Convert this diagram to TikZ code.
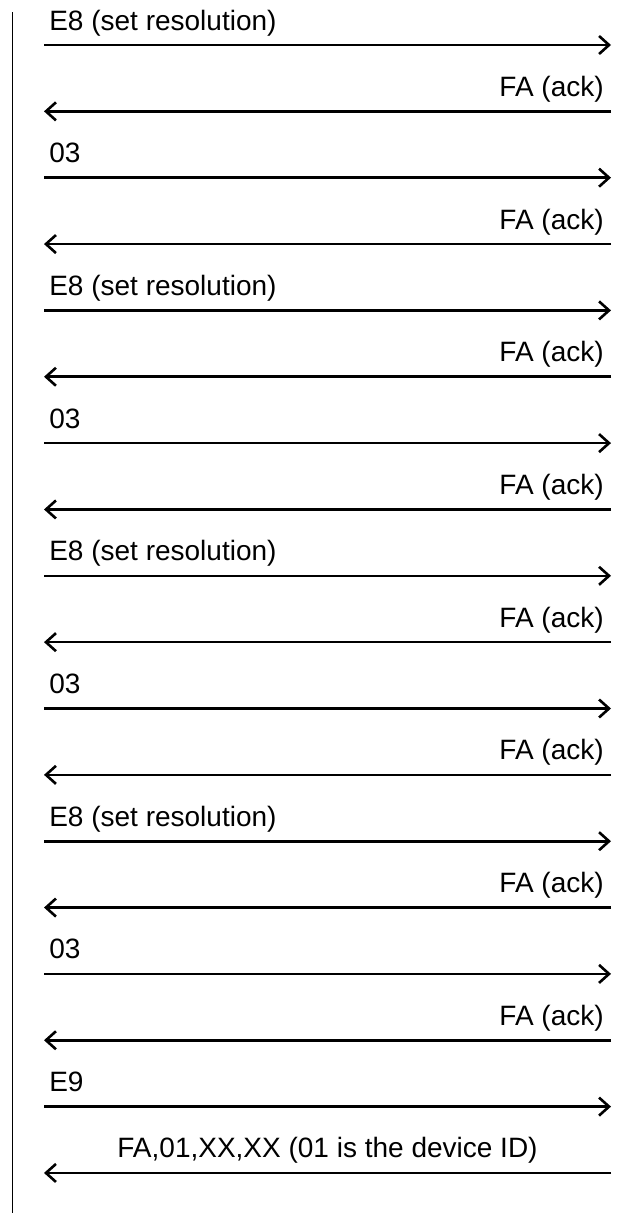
\documentclass[tikz,border=0pt]{standalone}
\usepackage{fontspec}
\setmainfont{Liberation Sans}
\usepackage{tikz}
\usetikzlibrary{arrows.meta}

\begin{document}
\begin{tikzpicture}[
  x=1pt, y=1pt,
  font=\fontsize{28}{32}\selectfont,
  msg/.style={line width=2.6pt,-{Straight Barb[length=10pt,width=18pt,line width=2.6pt]}},
  txlbl/.style={pos=0,anchor=base west,inner sep=0pt,xshift=4pt,yshift=15pt},
  rxlbl/.style={pos=0,anchor=base east,inner sep=0pt,xshift=-6pt,yshift=15pt},
  midlbl/.style={midway,anchor=base,inner sep=0pt,yshift=15pt}
]
\useasboundingbox (0,0) rectangle (628,-1213);
% host side time line
\coordinate (top) at (12.5,-12);
\coordinate (bot) at (12.5,-1213);
\draw[line width=1.8pt] (top) -- (bot);
% message end points, host (h) and device (d)
\foreach \k in {0,...,17}{
  \coordinate (h\k) at (44,{-45-\k*66.35});
  \coordinate (d\k) at (611,{-45-\k*66.35});
}
\draw[msg] (h0) -- node[txlbl]{E8 (set resolution)} (d0);
\draw[msg] (d1) -- node[rxlbl]{FA (ack)} (h1);
\draw[msg] (h2) -- node[txlbl]{03} (d2);
\draw[msg] (d3) -- node[rxlbl]{FA (ack)} (h3);
\draw[msg] (h4) -- node[txlbl]{E8 (set resolution)} (d4);
\draw[msg] (d5) -- node[rxlbl]{FA (ack)} (h5);
\draw[msg] (h6) -- node[txlbl]{03} (d6);
\draw[msg] (d7) -- node[rxlbl]{FA (ack)} (h7);
\draw[msg] (h8) -- node[txlbl]{E8 (set resolution)} (d8);
\draw[msg] (d9) -- node[rxlbl]{FA (ack)} (h9);
\draw[msg] (h10) -- node[txlbl]{03} (d10);
\draw[msg] (d11) -- node[rxlbl]{FA (ack)} (h11);
\draw[msg] (h12) -- node[txlbl]{E8 (set resolution)} (d12);
\draw[msg] (d13) -- node[rxlbl]{FA (ack)} (h13);
\draw[msg] (h14) -- node[txlbl]{03} (d14);
\draw[msg] (d15) -- node[rxlbl]{FA (ack)} (h15);
\draw[msg] (h16) -- node[txlbl]{E9} (d16);
\draw[msg] (d17) -- node[midlbl]{FA,01,XX,XX (01 is the device ID)} (h17);
\end{tikzpicture}
\end{document}
